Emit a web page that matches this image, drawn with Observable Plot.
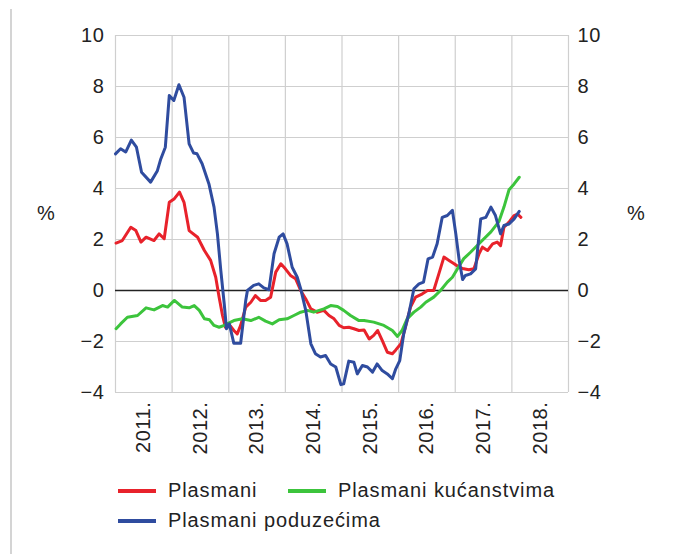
<!DOCTYPE html>
<html>
<head>
<meta charset="utf-8">
<script src="https://cdn.jsdelivr.net/npm/d3@7"></script>
<script src="https://cdn.jsdelivr.net/npm/@observablehq/plot@0.6"></script>
<style>
  html, body { margin: 0; padding: 0; background: #fff; }
  body { font-family: "Liberation Sans", Arial, sans-serif; }
  #wrap { position: relative; width: 675px; height: 554px; }
  #border { position: absolute; left: 10px; top: 9px; width: 2px; height: 545px; background: #d4d4d4; }
  .pct { position: absolute; font-size: 20px; color: #222; top: 202px; }
  #legend { position: absolute; left: 118px; top: 479px; font-size: 20px; letter-spacing: 0.9px; color: #222; }
  .item { position: absolute; white-space: nowrap; display: flex; align-items: center; }
  .sw { display: inline-block; width: 38px; height: 4px; margin-right: 12px; }
  #chart svg text { letter-spacing: 0.6px; }
</style>
</head>
<body>
<div id="wrap">
  <div id="border"></div>
  <div id="chart"></div>
  <div class="pct" style="left:37px">%</div>
  <div class="pct" style="left:627px">%</div>
  <div id="legend"></div>
</div>
<script>
// Series names and colours
const seriesNames = ["Plasmani", "Plasmani kućanstvima", "Plasmani poduzećima"];
const seriesColors = ["#e8222b", "#3cc43c", "#2f4c9f"];

// Y axis ticks, year labels
const yTicks = [-4, -2, 0, 2, 4, 6, 8, 10];
const years = [2011, 2012, 2013, 2014, 2015, 2016, 2017, 2018];

// Plasmani (red)
const redT = [2011.01,2011.12,2011.27,2011.36,2011.45,2011.54,2011.68,2011.77,2011.86,2011.95,2012.04,2012.13,2012.21,2012.30,2012.45,2012.57,2012.68,2012.77,2012.83,2012.89,2012.94,2013.00,2013.09,2013.15,2013.21,2013.30,2013.39,2013.47,2013.56,2013.65,2013.74,2013.83,2013.92,2014.00,2014.09,2014.18,2014.27,2014.36,2014.45,2014.56,2014.68,2014.77,2014.86,2014.95,2015.03,2015.12,2015.21,2015.30,2015.39,2015.48,2015.56,2015.63,2015.71,2015.80,2015.89,2015.95,2016.04,2016.12,2016.21,2016.30,2016.42,2016.51,2016.62,2016.71,2016.80,2016.89,2016.98,2017.07,2017.15,2017.24,2017.33,2017.42,2017.48,2017.57,2017.66,2017.74,2017.80,2017.86,2017.95,2018.04,2018.10,2018.16];
const redV = [1.86,1.96,2.48,2.35,1.9,2.09,1.96,2.22,2.03,3.46,3.6,3.86,3.46,2.35,2.09,1.57,1.18,0.52,-0.26,-0.98,-1.44,-1.31,-1.57,-1.7,-1.37,-0.65,-0.46,-0.2,-0.39,-0.39,-0.26,0.72,1.05,0.85,0.59,0.46,0,-0.33,-0.72,-0.85,-0.78,-0.98,-1.11,-1.37,-1.46,-1.44,-1.5,-1.57,-1.55,-1.9,-1.76,-1.57,-1.96,-2.42,-2.48,-2.33,-2.09,-1.44,-0.65,-0.26,-0.13,0,0,0.65,1.31,1.18,1.05,0.91,0.85,0.81,0.85,1.44,1.7,1.57,1.83,1.9,1.76,2.48,2.68,2.94,3.0,2.87];

// Plasmani kućanstvima (green)
const greenT = [2011.01,2011.09,2011.21,2011.39,2011.54,2011.68,2011.83,2011.92,2012.04,2012.18,2012.30,2012.39,2012.48,2012.57,2012.66,2012.74,2012.83,2012.92,2012.97,2013.09,2013.24,2013.39,2013.53,2013.65,2013.77,2013.89,2014.03,2014.15,2014.27,2014.39,2014.50,2014.68,2014.80,2014.92,2015.03,2015.15,2015.30,2015.39,2015.56,2015.74,2015.89,2015.98,2016.06,2016.15,2016.27,2016.39,2016.48,2016.62,2016.74,2016.86,2016.95,2017.04,2017.15,2017.27,2017.45,2017.63,2017.77,2017.86,2017.95,2018.04,2018.13];
const greenV = [-1.5,-1.31,-1.05,-0.98,-0.68,-0.76,-0.59,-0.65,-0.39,-0.65,-0.68,-0.59,-0.78,-1.11,-1.15,-1.37,-1.44,-1.37,-1.31,-1.18,-1.11,-1.18,-1.05,-1.2,-1.31,-1.15,-1.11,-0.98,-0.85,-0.78,-0.85,-0.72,-0.59,-0.63,-0.78,-0.98,-1.18,-1.18,-1.24,-1.37,-1.57,-1.8,-1.57,-1.11,-0.85,-0.65,-0.46,-0.26,0,0.33,0.52,0.85,1.25,1.5,1.9,2.3,2.7,3.27,3.95,4.18,4.44];

// Plasmani poduzećima (blue)
const blueT = [2011.00,2011.09,2011.18,2011.28,2011.37,2011.46,2011.62,2011.74,2011.80,2011.88,2011.95,2012.03,2012.12,2012.21,2012.30,2012.38,2012.44,2012.53,2012.65,2012.74,2012.80,2012.86,2012.92,2012.96,2013.01,2013.09,2013.21,2013.30,2013.33,2013.44,2013.53,2013.62,2013.71,2013.80,2013.89,2013.96,2014.03,2014.12,2014.21,2014.27,2014.36,2014.45,2014.53,2014.62,2014.71,2014.80,2014.89,2014.98,2015.03,2015.12,2015.21,2015.27,2015.36,2015.45,2015.54,2015.62,2015.71,2015.80,2015.89,2015.95,2016.02,2016.09,2016.18,2016.27,2016.36,2016.44,2016.52,2016.60,2016.68,2016.77,2016.86,2016.95,2017.01,2017.07,2017.13,2017.18,2017.27,2017.36,2017.45,2017.54,2017.63,2017.71,2017.80,2017.86,2017.95,2018.04,2018.13];
const blueV = [5.36,5.56,5.43,5.9,5.62,4.64,4.25,4.7,5.16,5.62,7.65,7.45,8.07,7.58,5.75,5.39,5.36,4.97,4.18,3.27,2.22,0.78,-0.52,-1.5,-1.31,-2.07,-2.07,-0.39,0,0.2,0.26,0.1,0.03,1.44,2.09,2.22,1.83,0.91,0.52,0.07,-0.78,-2.09,-2.48,-2.61,-2.55,-2.88,-3.0,-3.69,-3.66,-2.77,-2.81,-3.27,-2.94,-3.0,-3.2,-2.88,-3.14,-3.27,-3.46,-3.07,-2.75,-1.7,-0.91,0.07,0.26,0.33,1.24,1.31,1.83,2.87,2.94,3.14,2.22,1.18,0.43,0.59,0.65,0.85,2.81,2.87,3.27,2.94,2.22,2.55,2.61,2.81,3.1];

const toRows = (ts, vs, s) => ts.map((t, i) => ({t, v: vs[i], s}));
const rows = [
  ...toRows(redT, redV, seriesNames[0]),
  ...toRows(greenT, greenV, seriesNames[1]),
  ...toRows(blueT, blueV, seriesNames[2])
];

const font = "Liberation Sans, Arial, sans-serif";
const fmt = d => d < 0 ? "\u2212" + Math.abs(d) : String(d);
const chart = Plot.plot({
  width: 675,
  height: 470,
  marginLeft: 115,
  marginRight: 107,
  marginTop: 35,
  marginBottom: 78,
  style: {fontFamily: font, fontSize: "20px", color: "#222", background: "transparent"},
  x: {domain: [2011, 2019]},
  y: {domain: [-4, 10]},
  color: {domain: seriesNames, range: seriesColors},
  marks: [
    Plot.ruleX(d3.range(2011, 2020), {stroke: "#cfcfcf", strokeWidth: 1.2}),
    Plot.ruleY(yTicks, {stroke: "#cfcfcf", strokeWidth: 1.2}),
    Plot.ruleY([0], {stroke: "#222", strokeWidth: 1.6}),
    Plot.axisY({anchor: "left", ticks: yTicks, tickSize: 0, tickPadding: 11, label: null, tickFormat: fmt}),
    Plot.axisY({anchor: "right", ticks: yTicks, tickSize: 0, tickPadding: 9, label: null, tickFormat: fmt}),
    Plot.axisX({ticks: years.map(y => y + 0.5), tickFormat: d => Math.floor(d) + ".", tickRotate: -90, tickSize: 0, tickPadding: 9, label: null}),
    Plot.line(rows, {x: "t", y: "v", z: "s", stroke: "s", strokeWidth: 3, strokeLinejoin: "round", curve: "linear"})
  ]
});
document.getElementById("chart").appendChild(chart);

// Legend
const legendPos = [[0, 0], [170, 0], [0, 30]];
const legend = document.getElementById("legend");
seriesNames.forEach((name, i) => {
  const it = document.createElement("div");
  it.className = "item";
  it.style.left = legendPos[i][0] + "px";
  it.style.top = legendPos[i][1] + "px";
  const sw = document.createElement("span");
  sw.className = "sw";
  sw.style.background = seriesColors[i];
  it.appendChild(sw);
  it.appendChild(document.createTextNode(name));
  legend.appendChild(it);
});
</script>
</body>
</html>
